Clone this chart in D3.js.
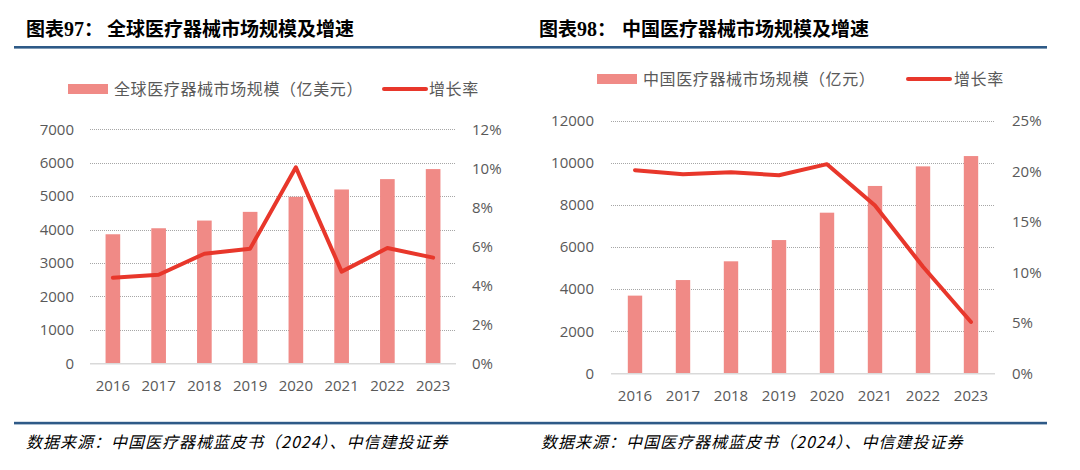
<!DOCTYPE html>
<html><head><meta charset="utf-8">
<script src="https://cdn.jsdelivr.net/npm/d3@7"></script>
<style>
body{margin:0;background:#fff;}
svg{display:block;}
</style></head>
<body>
<svg id="c" width="1080" height="470"></svg>
<script>
const years = ["2016","2017","2018","2019","2020","2021","2022","2023"];
const globalSize = [3860, 4040, 4270, 4530, 4980, 5200, 5510, 5810];
const globalGrowth = [4.39, 4.54, 5.62, 5.88, 10.05, 4.70, 5.91, 5.42];
const chinaSize = [3690, 4430, 5320, 6330, 7630, 8900, 9830, 10320];
const chinaGrowth = [20.1, 19.7, 19.9, 19.6, 20.7, 16.6, 10.55, 5.08];
const leftTicks = [0,1000,2000,3000,4000,5000,6000,7000];
const leftPct = [0,2,4,6,8,10,12];
const rightTicks = [0,2000,4000,6000,8000,10000,12000];
const rightPct = [0,5,10,15,20,25];

const titles = ["全球医疗器械市场规模及增速","中国医疗器械市场规模及增速"];
const titleNums = ["图表97：","图表98："];
const legendBar = ["全球医疗器械市场规模（亿美元）","中国医疗器械市场规模（亿元）"];
const legendLine = "增长率";
const source = "数据来源：中国医疗器械蓝皮书（2024）、中信建投证券";

const svg = d3.select("#c");
const BAR = "#F08A86", LINE = "#E8372B", BLUE = "#2E5A87", TXT = "#595959";

// header/footer rules
svg.append("rect").attr("x",14).attr("y",46).attr("width",1033).attr("height",2.6).attr("fill",BLUE);
svg.append("rect").attr("x",14).attr("y",421.8).attr("width",1033).attr("height",2.6).attr("fill",BLUE);

function title(x, num){
  const g = svg.append("text").attr("x",x).attr("y",36).attr("font-size",19).attr("font-weight","bold").attr("fill","#000");
  g.append("tspan").attr("font-family","'Noto Sans CJK SC'").text(num.slice(0,2));
  g.append("tspan").attr("font-family","'Liberation Serif'").attr("font-size",20).text(num.slice(2,4));
  g.append("tspan").attr("font-family","'Noto Sans CJK SC'").text(num.slice(4));
  return g;
}
title(26, titleNums[0]);
svg.append("text").attr("x",107).attr("y",36).attr("font-size",19).attr("font-weight","bold")
  .attr("font-family","'Noto Sans CJK SC'").text(titles[0]);
title(539, titleNums[1]);
svg.append("text").attr("x",622).attr("y",36).attr("font-size",19).attr("font-weight","bold")
  .attr("font-family","'Noto Sans CJK SC'").text(titles[1]);

[26, 541].forEach(x=>{
  svg.append("text").attr("x",x).attr("y",448).attr("font-size",16).attr("font-style","italic")
    .attr("letter-spacing",1).attr("font-family","'Noto Sans CJK SC'").attr("fill","#000").text(source);
});

function chart(o){
  const x = d3.scaleBand().domain(years).range([o.x0,o.x1]).paddingInner(o.pad).paddingOuter(o.pad/2);
  const y = d3.scaleLinear().domain([0,o.maxL]).range([o.yb,o.yt]);
  const y2 = d3.scaleLinear().domain([0,o.maxR]).range([o.yb,o.yt]);
  const g = svg.append("g");
  // gridlines
  g.selectAll(".grid").data(o.ticksL.filter(d=>d>0)).join("line")
    .attr("x1",o.x0).attr("x2",o.x1).attr("y1",d=>Math.round(y(d))+0.5).attr("y2",d=>Math.round(y(d))+0.5)
    .attr("stroke","#a6a6a6").attr("stroke-width",1).attr("stroke-dasharray","1,1");
  // bars
  g.selectAll(".bar").data(o.size).join("rect")
    .attr("x",(d,i)=>x(years[i])).attr("width",x.bandwidth())
    .attr("y",d=>y(d)).attr("height",d=>o.yb-y(d)).attr("fill",BAR);
  // baseline
  g.append("line").attr("x1",o.x0).attr("x2",o.x1).attr("y1",o.yb+0.5).attr("y2",o.yb+0.5)
    .attr("stroke","#d9d9d9").attr("stroke-width",1.5);
  // line
  const line = d3.line().x((d,i)=>x(years[i])+x.bandwidth()/2).y(d=>y2(d));
  g.append("path").datum(o.growth).attr("d",line).attr("fill","none")
    .attr("stroke",LINE).attr("stroke-width",4).attr("stroke-linejoin","round").attr("stroke-linecap","round");
  // axes
  const ax = d3.axisLeft(y).tickValues(o.ticksL).tickSize(0).tickPadding(0).tickFormat(d3.format("d"));
  const ag = g.append("g").attr("transform",`translate(${o.lx},0)`).call(ax);
  const ar = d3.axisRight(y2).tickValues(o.ticksR).tickSize(0).tickPadding(0).tickFormat(d=>d+"%");
  const rg = g.append("g").attr("transform",`translate(${o.rx},0)`).call(ar);
  const axb = d3.axisBottom(x).tickSize(0).tickPadding(0);
  const bg = g.append("g").attr("transform",`translate(0,${o.xy})`).call(axb);
  [ag,rg,bg].forEach(a=>{
    a.select(".domain").remove();
    a.selectAll("text").attr("font-family","'Open Sans'").attr("font-size",15).attr("fill",TXT);
  });
  bg.selectAll("text").attr("dy","0.32em").attr("y",0);
  // legend
  const L = g.append("g");
  L.append("rect").attr("x",o.lg[0]).attr("y",o.lgy-5).attr("width",40).attr("height",10).attr("fill",BAR);
  L.append("text").attr("x",o.lg[1]).attr("y",o.lgy).attr("dy","0.35em").attr("font-size",16)
    .attr("letter-spacing",0.6).attr("font-family","'Noto Sans CJK SC'").attr("fill",TXT).text(o.legend);
  L.append("line").attr("x1",o.lg[2]).attr("x2",o.lg[2]+42).attr("y1",o.lgy).attr("y2",o.lgy)
    .attr("stroke",LINE).attr("stroke-width",4).attr("stroke-linecap","round");
  L.append("text").attr("x",o.lg[3]).attr("y",o.lgy).attr("dy","0.35em").attr("font-size",16)
    .attr("letter-spacing",0.6).attr("font-family","'Noto Sans CJK SC'").attr("fill",TXT).text(legendLine);
}

chart({x0:90,x1:456,yt:129.3,yb:363.3,maxL:7000,maxR:12,pad:0.68,size:globalSize,growth:globalGrowth,
  ticksL:leftTicks,ticksR:leftPct,lx:74,rx:472,xy:386,legend:legendBar[0],lg:[68,114,384,429],lgy:89});
chart({x0:611,x1:995,yt:120.7,yb:373.3,maxL:12000,maxR:25,pad:0.7,size:chinaSize,growth:chinaGrowth,
  ticksL:rightTicks,ticksR:rightPct,lx:594,rx:1012,xy:396,legend:legendBar[1],lg:[597,643,908,954],lgy:79});
</script>
</body></html>
